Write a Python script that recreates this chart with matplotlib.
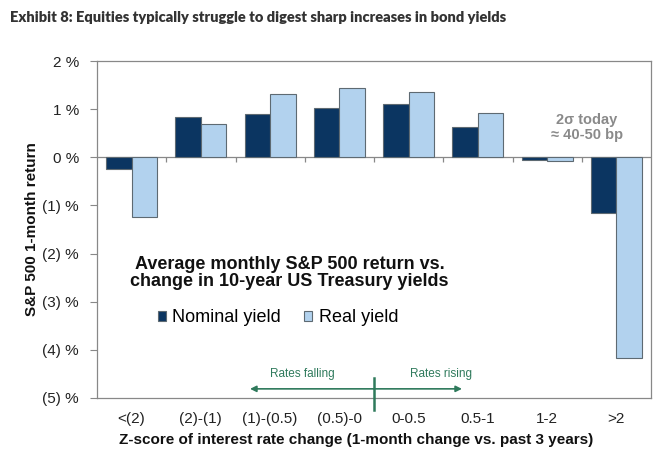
import matplotlib
matplotlib.use("Agg")
import matplotlib.pyplot as plt
import numpy as np

categories = ["<(2)", "(2)-(1)", "(1)-(0.5)", "(0.5)-0", "0-0.5", "0.5-1", "1-2", ">2"]
nominal = [-0.25, 0.83, 0.89, 1.03, 1.10, 0.62, -0.05, -1.15]
real = [-1.25, 0.70, 1.32, 1.43, 1.35, 0.91, -0.07, -4.16]
yticks = [2, 1, 0, -1, -2, -3, -4, -5]
ytick_labels = ["2 %", "1 %", "0 %", "(1) %", "(2) %", "(3) %", "(4) %", "(5) %"]

plt.rcParams['font.family'] = ['Liberation Sans', 'DejaVu Sans']

fig = plt.figure(figsize=(6.62, 4.58), dpi=100)
ax = fig.add_axes([97/662, 60/458, (651-97)/662, (398-61)/458])

x = np.arange(len(categories))
w = 0.37
navy = '#0B3561'
light = '#B2D2EE'
edge = '#5E6A72'
ax.bar(x - w/2, nominal, w, color=navy, edgecolor=edge, linewidth=0.8, label='Nominal yield', zorder=2)
ax.bar(x + w/2, real, w, color=light, edgecolor=edge, linewidth=0.8, label='Real yield', zorder=2)

ax.set_xlim(-0.5, len(categories) - 0.5)
ax.set_ylim(-5, 2)
ax.set_yticks(yticks)
ax.set_yticklabels(ytick_labels, fontsize=11, color='#222222')
ax.set_xticks(x)
ax.set_xticklabels(categories, fontsize=11, color='#222222')
ax.tick_params(axis='x', length=0, pad=10)
ax.tick_params(axis='y', length=5, color='#888888', pad=8)
for s in ax.spines.values():
    s.set_color('#888888')
    s.set_linewidth(0.9)

# zero line and category boundary ticks
ax.axhline(0, color='#888888', linewidth=0.9, zorder=1)
bounds = np.arange(len(categories) + 1) - 0.5
ax.vlines(bounds[1:-1], -0.09, 0, color='#888888', linewidth=0.9, zorder=1)

ax.set_ylabel("S&P 500 1-month return", fontsize=11, fontweight='bold', color='#111111')
ax.yaxis.set_label_coords(-0.105, 0.50)

fig.text(356/662, 1 - 440/458, "Z-score of interest rate change (1-month change vs. past 3 years)",
         fontsize=11, fontweight='bold', ha='center', va='center', color='#111111')

fig.text(10/662, 1 - 18/458, "Exhibit 8: Equities typically struggle to digest sharp increases in bond yields",
         fontsize=10.5, fontweight='heavy', ha='left', va='center', color='#333333',
         family=['Lato', 'DejaVu Sans'])

ax.text(2.28, -2.40, "Average monthly S&P 500 return vs.\nchange in 10-year US Treasury yields",
        fontsize=13, fontweight='bold', ha='center', va='center', color='#111111', linespacing=1.05)

leg = ax.legend(loc='center', bbox_to_anchor=((278-97)/554, (398-318)/337), ncol=2, frameon=False,
                fontsize=13, handlelength=0.45, handleheight=0.45, handletextpad=0.35, columnspacing=1.3)

ax.text(6.57, 0.62, "2σ today\n≈ 40-50 bp", fontsize=10.5, fontweight='bold', color='#8A8A8A',
        ha='center', va='center', linespacing=1.05)

green = '#2F7A5C'
mid = 3.5
ax.plot([mid, mid], [-4.59, -5.25], color=green, linewidth=1.8, clip_on=False, zorder=3)
ax.annotate("", xy=(1.71, -4.81), xytext=(mid, -4.81),
            arrowprops=dict(arrowstyle='-|>', color=green, lw=1.2, mutation_scale=9, shrinkA=0, shrinkB=0))
ax.annotate("", xy=(4.77, -4.81), xytext=(mid, -4.81),
            arrowprops=dict(arrowstyle='-|>', color=green, lw=1.2, mutation_scale=9, shrinkA=0, shrinkB=0))
ax.text(2.47, -4.50, "Rates falling", fontsize=8.5, color=green, ha='center', va='center')
ax.text(4.47, -4.50, "Rates rising", fontsize=8.5, color=green, ha='center', va='center')

fig.savefig("out.png", dpi=100)
